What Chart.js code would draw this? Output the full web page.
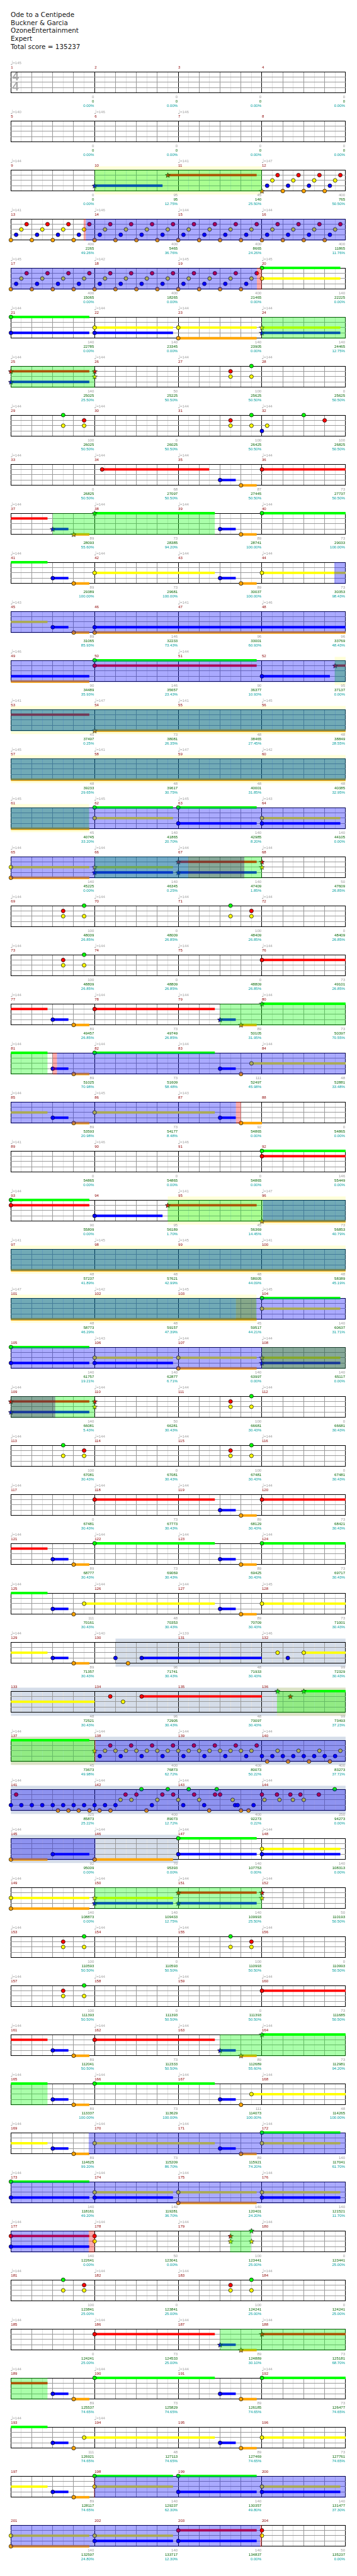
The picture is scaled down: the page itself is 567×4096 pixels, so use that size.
<!DOCTYPE html>
<html lang="en">
<head>
<meta charset="UTF-8" />
<title>Ode to a Centipede - Expert</title>
<script src="https://cdn.jsdelivr.net/npm/chart.js"></script>
<style>
  * { margin: 0; padding: 0; box-sizing: border-box; }
  body { width: 567px; height: 4096px; background: #fff; position: relative; overflow: hidden; }
  .head {
    position: absolute; left: 17px; top: 17px;
    font-family: "DejaVu Sans", sans-serif; font-size: 10.4px; line-height: 12.72px; color: #151515;
    white-space: pre;
  }
  .row { position: absolute; left: 0; width: 567px; height: 80px; }
</style>
</head>
<body>
<div class="head">Ode to a Centipede
Buckner &amp; Garcia
OzoneEntertainment
Expert
Total score = 135237</div>
<div id="rows"></div>
<script>
// ---- data (times are in measures, 1 = start of measure 1) ----
// lanes: 0 green, 1 red, 2 yellow, 3 blue, 4 orange
// a plain number is a note, [start, end] is a note with a sustain
const greenNotes = [
  [20, 20.9375], [21, 21.9375], 27.875, 29.625, 31.875, 32.5,
  [38, 39.4375], [40, 41.4375], [50, 51.9375], [62, 62.9375], [63, 63.9375],
  69.875, 71.625, 73.875, [80, 81.4375], [82, 83.4375], [92, 93.4375], [93, 93.9375],
  [104, 104.9375], [105, 105.9375], 111.875, 113.625, 115.875,
  [122, 123.4375], [124, 125.4375], 136.1875, [136.5, 137.9375],
  142.56, 142.875, 143.125, 143.46, 144.87,
  [147, 147.9375], 153.875, 155.625, 157.875, [164, 165.4375], [166, 167.4375],
  [172, 172.9375], [173, 173.9375], 179.875, 181.625, 183.875,
  [190, 191.4375], [192, 193.4375], [198, 198.9375], [199, 199.9375]
];
const redNotes = [
  [10.875, 11.9375], 12.1875, 12.4375, 12.6875, 12.9375,
  13.1875, 13.4375, 13.6875, 13.9375, 14.1875, 14.4375, 14.6875, 14.9375,
  15.1875, 15.4375, 15.6875, 15.9375, 16.1875, 16.4375, 16.6875, 16.9375,
  17.1875, 17.4375, 17.6875, 17.9375, 18.1875, 18.4375, 18.6875, 18.9375,
  19.1875, 19.4375, 19.6875, 19.9375,
  [25, 25.9375], 26, 27.625, 29.875, 31.625, 32.75,
  [34.09, 35.37], [36, 37.4375], [50, 51.9375], [52.875, 53.9375],
  [67, 67.9375], 68, 69.625, 71.875, 73.625, [76, 77.4375], [78, 79.4375],
  [92, 93.4375], [93, 93.9375], [94.875, 95.9375], [109, 109.9375], 110,
  111.625, 113.875, 115.625, [118, 119.4375], [120, 121.4375],
  134.1875, [134.5625, 136], 136.34,
  138.1875, 138.4375, 138.6875, 138.9375, 139.1875, 139.4375, 139.6875, 139.9375,
  141.0625, 142.37, 142.5, 142.81, 142.94, 143.19, 143.44, 143.5, 144, 144.18, 144.34, 144.46, 144.68,
  [151, 151.9375], 152, 153.625, 155.875, 157.625, [160, 161.4375], [162, 163.4375],
  [177, 177.9375], 178, 179.625, 181.875, 183.625, [186, 187.4375], [188, 189.4375],
  [203, 203.9375], 204
];
const yellowNotes = [
  12.125, 12.375, 12.625, 12.875, 13.125, 13.375, 13.625, 13.875, 14.125, 14.375, 14.625, 14.875,
  15.125, 15.375, 15.625, 15.875, 16.125, 16.375, 16.625, 16.875, 17.125, 17.375, 17.625, 17.875,
  18.125, 18.375, 18.625, 18.875, 19.125, 19.375, 19.625, 19.875,
  [20, 20.9375], [22, 22.9375], [23, 23.9375], [24, 24.9375], 26, 27.625, 27.875,
  29.625, 29.875, 31.625, 31.875, 32.0625, [42, 43.4375], [44, 45.4375],
  [62, 62.9375], [64, 64.9375], [65, 65.9375], [66, 66.9375], 68,
  69.625, 69.875, 71.625, 71.875, 73.625, 73.875, [83.875, 85.4375], [86, 87.4375],
  [104, 104.9375], [106, 106.9375], [107, 107.9375], [108, 108.9375], 110,
  111.625, 111.875, 113.625, 113.875, 115.625, 115.875, [125.875, 127.4375], [128, 129.4375],
  132.1875, [132.5, 134], 134.34, 138,
  138.125, 138.25, 138.375, 138.5, 138.625, 138.75, 138.875, 139, 139.125, 139.25,
  139.375, 139.5, 139.625, 139.75, 139.875, 140.1875, 140.4375, 140.6875, 140.9375,
  142.31, 142.44, 142.75, 143, 143.25, 143.65, 144.03, 144.21, 144.37, 144.5,
  [148, 148.9375], [149, 149.9375], [150, 150.9375], 152,
  153.625, 153.875, 155.625, 155.875, 157.625, 157.875,
  [167.875, 169.4375], [170, 171.4375], [172, 172.9375], [174, 174.9375], [175, 175.9375],
  [176, 176.9375], 178, 179.625, 179.875, 181.625, 181.875, 183.625, 183.875,
  [193.875, 195.4375], [196, 197.4375], [198, 198.9375], [200, 200.9375],
  [201, 201.9375], [202, 202.9375], 204
];
const blueNotes = [
  [10, 10.8125], 12.0625, 12.3125, 12.5625, 12.8125, 13.0625, 13.3125, 13.5625, 13.8125,
  14.0625, 14.3125, 14.5625, 14.8125, 15.0625, 15.3125, 15.5625, 15.8125,
  16.0625, 16.3125, 16.5625, 16.8125, 17.0625, 17.3125, 17.5625, 17.8125,
  18.0625, 18.3125, 18.5625, 18.8125, 19.0625, 19.3125, 19.5625, 19.8125,
  [21, 21.9375], [22, 22.9375], [24, 24.9375], [25, 25.9375], 32,
  [35.5, 35.6875], [37.5, 37.6875], [39.5, 39.6875], [41.5, 41.6875], [43.5, 43.6875],
  [45.5, 45.6875], [46, 49.9375], [52, 52.8125], [63, 63.9375], [64, 64.9375],
  [66, 66.9375], [67, 67.9375], [77.5, 77.6875], [79.5, 79.6875], [81.5, 81.6875],
  [83.5, 83.6875], [85.5, 85.6875], [87.5, 87.6875], [94, 94.8125],
  [105, 105.9375], [106, 106.9375], [108, 108.9375], [109, 109.9375],
  [119.5, 119.6875], [121.5, 121.6875], [123.5, 123.6875], [125.5, 125.6875],
  [127.5, 127.6875], [129.5, 129.6875], 130.25, [130.5625, 132], 132.31,
  138.0625, 138.3125, 138.5625, 138.8125, 139.0625, 139.3125, 139.5625, 139.8125,
  140, 140.125, 140.25, 140.375, 140.5, 140.625, 140.75, 140.875,
  141, 141.125, 141.25, 141.375, 141.5, 141.625, 141.75, 141.875, 142, 142.125, 142.25,
  142.685, 143.06, 143.31, 143.68, 143.71, 143.9,
  [145.5, 145.9375], [147, 147.9375], [148, 148.9375], [150, 150.9375], [151, 151.9375],
  [161.5, 161.6875], [163.5, 163.6875], [165.5, 165.6875], [167.5, 167.6875],
  [169.5, 169.6875], [171.5, 171.6875], [173, 173.9375], [174, 174.9375], [176, 176.9375],
  [177, 177.9375], [187.5, 187.6875], [189.5, 189.6875], [191.5, 191.6875],
  [193.5, 193.6875], [195.5, 195.6875], [197.5, 197.6875], [199, 199.9375],
  [200, 200.9375], [202, 202.9375], [203, 203.9375]
];
const orangeNotes = [
  12, 12.25, 12.5, 12.75, 13, 13.25, 13.5, 13.75, 14, 14.25, 14.5, 14.75, 15, 15.25, 15.5, 15.75,
  16, 16.25, 16.5, 16.75, 17, 17.25, 17.5, 17.75, 18, 18.25, 18.5, 18.75, 19, 19.25, 19.5, 19.75,
  [23, 23.9375], [35.75, 35.9375], [37.75, 37.9375], [39.75, 39.9375], [41.75, 41.9375],
  [43.75, 43.9375], [45.75, 45.9375], [46, 49.9375], [54, 61.9375], [65, 65.9375],
  [77.75, 77.9375], [79.75, 79.9375], [81.75, 81.9375], 83.75, [85.75, 85.9375], [87.75, 88],
  [96, 103.9375], [107, 107.9375], [119.75, 119.9375], [121.75, 121.9375], [123.75, 123.9375],
  125.75, [127.75, 127.9375], [129.75, 129.9375], 130.4,
  140.0625, 140.3125, 140.5625, 140.8125,
  141.5625, 141.6875, 141.81, 141.94, 142.06, 142.19, 142.62, 143.37, 143.75, 143.84,
  [145, 145.4375], [146, 146.9375], [149, 149.9375],
  [161.75, 161.9375], [163.75, 163.9375], [165.75, 165.9375], 167.75, [169.75, 169.9375],
  [171.75, 171.9375], [175, 175.9375], [187.75, 187.9375], [189.75, 189.9375],
  [191.75, 191.9375], 193.75, [195.75, 195.9375], [197.75, 197.9375], [201, 201.9375]
];
// star notes (note start times)
const greenStars = [38, 80, 136.1875, 136.5, 164, 179.875];
const redStars = [10.875, 25, 26, 52.875, 67, 68, 94.875, 109, 110, 136.34, 151, 152, 179.625, 188];
const yellowStars = [24, 26, 66, 68, 108, 110, 138, 150, 152, 179.625, 179.875];
const blueStars = [10, 24, 25, 37.5, 66, 67, 79.5, 108, 109, 150, 151, 163.5, 187.5];
const orangeStars = [12, 37.75, 54, 79.75, 96, 163.75, 187.75];

// shaded ranges [from, to]
const spPhrases = [[10, 12], [24, 26], [37.5, 39.4375], [52.87, 61.935], [66, 68], [79.5, 81.4375],
  [94.875, 103.935], [108, 110], [136.18, 138], [150, 152], [163.5, 165.4375], [179.62, 179.87], [187.5, 189.4375]];
const activations = [[13.895, 19.94], [44.865, 67.12], [81.55, 87.69], [96.01, 103.69], [103.93, 108],
  [138.012, 146.01], [169.93, 177.93], [198, 203.98]];
const lateZones = [[67.12, 67.79], [103.69, 103.93], [108, 109.53]];
const actEdges = [[13.87, 13.895], [19.94, 20], [81.5, 81.55], [87.69, 87.75], [138, 138.012],
  [177.93, 178], [197.99, 198], [203.98, 204]];
const whammyBands = [[10, 12], [52.87, 61.935], [94.875, 103.935], [136.18, 138]];
const soloSections = [[130.25, 147]];

// per measure labels (0 = no tempo mark)
const tempos = [
  145, 0, 0, 0,  140, 146, 146, 0,  144, 0, 141, 147,  141, 146, 144, 144,
  145, 142, 145, 145,  144, 144, 144, 144,  144, 144, 144, 144,  144, 144, 144, 144,
  144, 144, 144, 144,  144, 144, 144, 144,  144, 144, 144, 144,  143, 0, 141, 146,
  146, 0, 144, 0,  141, 147, 141, 145,  145, 141, 147, 142,  145, 145, 145, 143,
  144, 144, 144, 144,  144, 144, 144, 144,  144, 144, 144, 144,  144, 144, 144, 144,
  144, 144, 144, 144,  144, 145, 143, 0,  141, 146, 146, 0,  144, 0, 141, 147,
  141, 145, 145, 141,  147, 142, 145, 145,  0, 143, 144, 144,  144, 144, 144, 144,
  144, 144, 144, 144,  144, 144, 144, 144,  144, 144, 144, 144,  144, 144, 144, 145,
  144, 140, 139, 146,  0, 0, 0, 0,  144, 144, 144, 144,  144, 144, 144, 144,
  144, 144, 144, 144,  144, 144, 144, 144,  144, 144, 144, 144,  144, 144, 144, 144,
  144, 144, 144, 144,  144, 144, 144, 144,  144, 144, 144, 144,  144, 144, 144, 144,
  144, 144, 144, 144,  144, 144, 144, 144,  144, 144, 144, 144,  144, 144, 144, 144,
  144, 144, 0, 0
];
const measureScores = [
  0, 0, 0, 0,  0, 0, 0, 0,  0, 95, 45, 400,  400, 400, 400, 400,
  400, 400, 400, 140,  140, 140, 140, 140,  140, 50, 100, 0,  100, 0, 100, 100,
  0, 68, 87, 73,  89, 73, 89, 73,  89, 73, 89, 73,  89, 146, 96, 96,
  90, 146, 90, 95,  45, 73, 48, 48,  48, 48, 48, 48,  45, 140, 140, 140,
  140, 140, 140, 50,  100, 0, 100, 0,  100, 0, 0, 73,  89, 73, 89, 73,
  89, 73, 111, 48,  89, 73, 92, 0,  0, 0, 0, 146,  90, 95, 45, 73,
  48, 48, 48, 48,  48, 48, 45, 140,  140, 140, 140, 140,  140, 50, 100, 0,
  100, 0, 100, 0,  0, 73, 89, 73,  89, 73, 89, 73,  111, 48, 89, 73,
  89, 96, 48, 99,  48, 96, 48, 99,  45, 400, 400, 400,  325, 400, 400, 250,
  92, 70, 140, 140,  140, 140, 140, 50,  100, 0, 100, 0,  100, 0, 0, 73,
  89, 73, 89, 73,  89, 73, 111, 48,  89, 73, 89, 140,  140, 140, 140, 140,
  140, 50, 100, 0,  100, 0, 100, 0,  0, 73, 89, 73,  89, 73, 89, 73,
  111, 48, 89, 73,  89, 140, 140, 140,  140, 140, 140, 50
];
const totalScores = [
  0, 0, 0, 0,  0, 0, 0, 0,  0, 95, 140, 765,  2265, 5465, 8665, 11865,
  15065, 18265, 21465, 22225,  22785, 23345, 23905, 24465,  25025, 25225, 25625, 25625,
  26025, 26025, 26425, 26825,  26825, 27097, 27445, 27737,  28093, 28385, 28741, 29033,
  29389, 29681, 30037, 30353,  31065, 32233, 33001, 33769,  34489, 35657, 36377, 37137,
  37497, 38081, 38465, 38849,  39233, 39617, 40001, 40385,  40745, 41865, 42985, 44105,
  45225, 46345, 47409, 47609,  48009, 48009, 48409, 48409,  48809, 48809, 48809, 49101,
  49457, 49749, 50105, 50397,  51025, 51609, 52497, 52881,  53593, 54177, 54865, 54865,
  54865, 54865, 54865, 55449,  55809, 56189, 56369, 56853,  57237, 57621, 58005, 58389,
  58773, 59157, 59517, 60637,  61757, 62877, 63997, 65117,  66081, 66281, 66681, 66681,
  67081, 67081, 67481, 67481,  67481, 67773, 68129, 68421,  68777, 69069, 69425, 69717,
  70161, 70353, 70709, 71001,  71357, 71741, 71933, 72329,  72521, 72905, 73097, 73493,
  73673, 76873, 80073, 83273,  85873, 89073, 92273, 94273,  95009, 95393, 107753, 108313,
  108873, 109433, 109993, 110193,  110593, 110593, 110993, 110993,  111393, 111393, 111393, 111685,
  112041, 112333, 112689, 112981,  113337, 113629, 114073, 114265,  114625, 115209, 115921, 117041,
  118161, 119281, 120401, 121521,  122641, 123041, 123441, 123441,  123841, 123841, 124241, 124241,
  124241, 124533, 124889, 125181,  125537, 125829, 126185, 126477,  126921, 127113, 127469, 127761,
  128117, 129237, 130357, 131477,  132597, 133717, 134837, 135237
];
const spPercents = [
  0, 0, 0, 0,  0, 0, 0, 0,  0, 12.75, 25.5, 50.5,  49.26, 36.76, 24.26, 11.76,
  0, 0, 0, 0,  0, 0, 0, 12.75,  25.5, 50.5, 50.5, 50.5,  50.5, 50.5, 50.5, 50.5,
  50.5, 50.5, 50.5, 50.5,  55.6, 94.2, 100, 100,  100, 100, 100, 98.43,  85.93, 73.43, 60.93, 48.43,
  35.93, 23.43, 10.93, 0,  0.25, 26.35, 27.45, 28.55,  29.65, 30.75, 31.85, 32.95,  33.2, 20.7, 8.2, 0,
  0, 0.25, 1.85, 26.85,  26.85, 26.85, 26.85, 26.85,  26.85, 26.85, 26.85, 26.85,  26.85, 26.85, 31.95, 70.55,
  70.98, 58.48, 45.98, 33.48,  20.98, 8.48, 0, 0,  0, 0, 0, 0,  0, 1.7, 14.45, 40.79,
  41.89, 42.99, 44.09, 45.19,  46.29, 47.39, 44.21, 31.71,  19.21, 6.71, 0, 0,  5.43, 30.43, 30.43, 30.43,
  30.43, 30.43, 30.43, 30.43,  30.43, 30.43, 30.43, 30.43,  30.43, 30.43, 30.43, 30.43,  30.43, 30.43, 30.43, 30.43,
  30.43, 30.43, 30.43, 30.43,  30.43, 30.43, 30.43, 37.23,  49.98, 62.72, 50.22, 37.72,  25.22, 12.72, 0.22, 0,
  0, 0, 0, 0,  0, 12.75, 25.5, 50.5,  50.5, 50.5, 50.5, 50.5,  50.5, 50.5, 50.5, 50.5,
  50.5, 50.5, 55.6, 94.2,  100, 100, 100, 100,  99.2, 86.7, 74.2, 61.7,  49.2, 36.7, 24.2, 11.7,
  0, 0, 25, 25,  25, 25, 25, 25,  25, 25, 30.1, 68.7,  74.65, 74.65, 74.65, 74.65,
  74.65, 74.65, 74.65, 74.65,  74.65, 62.3, 49.8, 37.3,  24.8, 12.3, 0, 0
];

// ---- layout (reference pixels, scaled by S) ----
const S = 0.553;
const W = 567, ROW_H = 80, PAD_TOP = 21;
const FIRST_STAFF_TOP = 205.5, ROW_PITCH = 141.1;
const STAFF_LEFT = 31.3, MEASURE_W = 240.3, STAFF_H = 61;
const LANE_COLORS = ["#00ff00", "#ff0000", "#ffff00", "#0000ff", "#ffa500"];
const laneNotes = [greenNotes, redNotes, yellowNotes, blueNotes, orangeNotes];
const laneStars = [greenStars, redStars, yellowStars, blueStars, orangeStars];
const SMALL_FONT = (11 * S).toFixed(2) + 'px "Liberation Sans", "DejaVu Sans", sans-serif';
const NOTE_FONT = (16 * S).toFixed(2) + 'px "DejaVu Sans", sans-serif';

function makeStar(color) {
  const c = document.createElement("canvas");
  c.width = 9; c.height = 9;
  const g = c.getContext("2d");
  g.beginPath();
  for (let i = 0; i < 10; i++) {
    const r = i % 2 ? 1.7 : 4.1;
    const a = -Math.PI / 2 + i * Math.PI / 5;
    g.lineTo(4.5 + r * Math.cos(a), 4.9 + r * Math.sin(a));
  }
  g.closePath();
  g.fillStyle = color;
  g.fill();
  g.lineWidth = 0.7;
  g.strokeStyle = "#000";
  g.stroke();
  return c;
}
const starImgs = LANE_COLORS.map(makeStar);

function rowDatasets(m0) {
  const m1 = m0 + 4;
  const out = [];
  laneNotes.forEach((list, lane) => {
    const tails = [], heads = [], stars = [];
    list.forEach(n => {
      const s = Array.isArray(n) ? n[0] : n;
      const e = Array.isArray(n) ? n[1] : 0;
      if (e > s && e > m0 && s < m1) {
        tails.push({ x: Math.max(s, m0), y: lane }, { x: Math.min(e, m1), y: lane }, { x: Math.min(e, m1), y: null });
      }
      if (s >= m0 && s < m1) {
        (laneStars[lane].includes(s) ? stars : heads).push({ x: s, y: lane });
      }
    });
    out.push({ data: tails, showLine: true, spanGaps: false, borderColor: LANE_COLORS[lane],
      borderWidth: 7 * S, pointRadius: 0, order: 3, clip: false });
    out.push({ data: heads, pointStyle: "circle", pointRadius: 5.5 * S, pointBackgroundColor: LANE_COLORS[lane],
      pointBorderColor: "#000", pointBorderWidth: 0.7, order: 2, clip: false });
    out.push({ data: stars, pointStyle: starImgs[lane], pointRadius: 4, order: 1, clip: false });
  });
  return out;
}

function makeRowPlugin(m0, first) {
  const m1 = m0 + 4;
  const fillSpans = (chart, list, color, y0, y1) => {
    const { ctx, scales: { x } } = chart;
    ctx.fillStyle = color;
    list.forEach(([a, b]) => {
      if (b <= m0 || a >= m1) return;
      const xa = x.getPixelForValue(Math.max(a, m0));
      const xb = x.getPixelForValue(Math.min(b, m1));
      ctx.fillRect(xa, y0, xb - xa, y1 - y0);
    });
  };
  return {
    id: "row" + m0,
    beforeDraw(chart) {
      const a = chart.chartArea, ext = 10 * S;
      fillSpans(chart, soloSections, "#d5dde9", a.top - ext, a.bottom + ext);
      fillSpans(chart, whammyBands, "rgba(255,255,0,0.15)", a.top - ext, a.bottom + ext);
    },
    afterDatasetsDraw(chart) {
      const a = chart.chartArea;
      const t = Math.floor(a.top), b = Math.ceil(a.bottom) + 0.5;
      fillSpans(chart, spPhrases, "rgba(0,255,0,0.333)", t, b);
      fillSpans(chart, activations, "rgba(0,0,255,0.333)", t, b);
      fillSpans(chart, lateZones, "rgba(67,6,119,0.35)", t, b);
      fillSpans(chart, actEdges, "rgba(255,0,0,0.333)", t, b);
    },
    afterDraw(chart) {
      const { ctx, chartArea: a, scales: { x } } = chart;
      ctx.save();
      for (let k = 0; k < 4; k++) {
        const m = m0 + k, i = m - 1;
        const xl = x.getPixelForValue(m), xr = x.getPixelForValue(m + 1) - 1.5 * S;
        ctx.textAlign = "left";
        if (tempos[i]) {
          ctx.fillStyle = "#a2a2a2";
          ctx.textBaseline = "alphabetic";
          ctx.font = NOTE_FONT;
          ctx.fillText("\u2669", xl - 1.5 * S, a.top - 19 * S);
          ctx.textBaseline = "middle";
          ctx.font = SMALL_FONT;
          ctx.fillText("=" + tempos[i], xl + 5.4 * S, a.top - 24.5 * S);
        }
        ctx.textBaseline = "middle";
        ctx.font = SMALL_FONT;
        ctx.fillStyle = "#8b0000";
        ctx.fillText(String(m), xl, a.top - 11.5 * S);
        ctx.textAlign = "right";
        ctx.fillStyle = "#9a9a9a";
        ctx.fillText(String(measureScores[i]), xr, a.top + 72.5 * S);
        ctx.fillStyle = "#006400";
        ctx.fillText(String(totalScores[i]), xr, a.top + 85.5 * S);
        ctx.fillStyle = "#009c9c";
        ctx.fillText(spPercents[i].toFixed(2) + "%", xr, a.top + 98.8 * S);
      }
      if (first) {
        ctx.font = 'bold ' + (34 * S).toFixed(1) + 'px "Liberation Sans", sans-serif';
        ctx.fillStyle = "#a8a8a8";
        ctx.textAlign = "center";
        ctx.textBaseline = "middle";
        const cx = a.left + 13.2 * S;
        ctx.fillText("4", cx, a.top + 15.5 * S);
        ctx.fillText("4", cx, a.top + 44.5 * S);
      }
      ctx.restore();
    }
  };
}

function xGridColor(v) {
  const f = v - Math.floor(v + 1e-6);
  if (Math.abs(f) < 1e-6) return "#000";
  if (Math.abs(f * 4 - Math.round(f * 4)) < 1e-6) return "#9a9a9a";
  return "#e2e2e2";
}

const rowsEl = document.getElementById("rows");
const rowCount = measureScores.length / 4;
for (let r = 0; r < rowCount; r++) {
  const m0 = r * 4 + 1;
  const staffTop = Math.round((FIRST_STAFF_TOP + r * ROW_PITCH) * S);
  const wrap = document.createElement("div");
  wrap.className = "row";
  wrap.style.top = (staffTop - PAD_TOP) + "px";
  const cv = document.createElement("canvas");
  cv.width = W; cv.height = ROW_H;
  cv.style.width = W + "px"; cv.style.height = ROW_H + "px";
  wrap.appendChild(cv);
  rowsEl.appendChild(wrap);

  new Chart(cv, {
    type: "scatter",
    data: { datasets: rowDatasets(m0) },
    options: {
      responsive: false,
      animation: false,
      devicePixelRatio: 1,
      events: [],
      layout: { padding: {
        left: STAFF_LEFT * S,
        right: W - (STAFF_LEFT + 4 * MEASURE_W) * S,
        top: PAD_TOP,
        bottom: ROW_H - PAD_TOP - STAFF_H * S
      } },
      plugins: { legend: { display: false }, tooltip: { enabled: false } },
      scales: {
        x: {
          type: "linear", min: m0, max: m0 + 4,
          afterFit: s => { s.height = 0; },
          ticks: { display: false, stepSize: 0.125, maxTicksLimit: 1000 },
          border: { display: false },
          grid: { drawTicks: false, lineWidth: 1, color: c => xGridColor(c.tick.value) }
        },
        y: {
          type: "linear", min: 0, max: 4, reverse: true,
          afterFit: s => { s.width = 0; },
          ticks: { display: false, stepSize: 1 },
          border: { display: false },
          grid: { drawTicks: false, lineWidth: 1,
            color: c => (c.tick.value === 0 || c.tick.value === 4) ? "#000" : "#9a9a9a" }
        }
      }
    },
    plugins: [makeRowPlugin(m0, r === 0)]
  });
}
</script>
</body>
</html>
